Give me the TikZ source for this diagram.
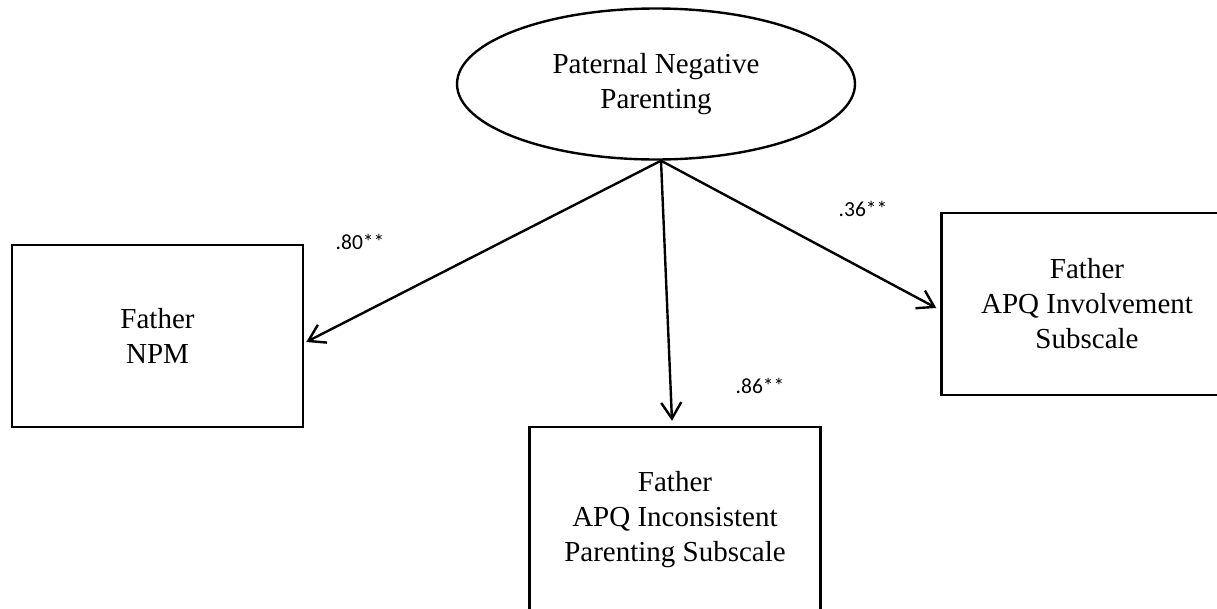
\documentclass[tikz,border=0pt]{standalone}
\usepackage{fontspec}
\setmainfont{Liberation Serif}
\newfontfamily\lblfont{Carlito}
\usetikzlibrary{shapes.geometric,arrows.meta,calc}
\begin{document}
\begin{tikzpicture}[x=1pt,y=-1pt,
  box/.style={draw,line width=2.4pt,rectangle,minimum width=291pt,minimum height=182pt,inner sep=0pt,align=center,font=\fontsize{29}{35}\selectfont},
  latent/.style={draw,line width=2.4pt,ellipse,minimum width=398pt,minimum height=151pt,inner sep=0pt,align=center,font=\fontsize{29}{35}\selectfont},
  path/.style={line width=2.4pt,-{Straight Barb[length=16pt,width=20pt,line width=2.4pt]}},
  coef/.style={font=\lblfont\fontsize{21.5}{24}\selectfont,inner sep=0pt}]
\useasboundingbox (0,0) rectangle (1217,608);
\clip (0,0) rectangle (1217,608);
\fill[white] (0,0) rectangle (1217,608);
\node[latent] (ell) at (656,84) {Paternal Negative\\Parenting};
\node[box] (npm) at (157.5,336) {Father\\NPM};
\node[box] (inv) at (1087,304) {Father\\APQ Involvement\\Subscale};
\node[box,minimum height=186pt] (inc) at (675,520) {Father\\APQ Inconsistent\\Parenting Subscale};
\coordinate (apex) at ($(ell.south)+(5,0)$);
\draw[path] (apex) -- ($(npm.east)+(2,6)$);
\draw[path] (apex) -- ($(inc.north)+(-3,-5)$);
\draw[path] (apex) -- ($(inv.west)+(-4,4)$);
\node[coef] (c1) at (360,242) {.80**};
\node[coef] (c2) at (863,209) {.36**};
\node[coef] (c3) at (760,386) {.86**};
\end{tikzpicture}
\end{document}
